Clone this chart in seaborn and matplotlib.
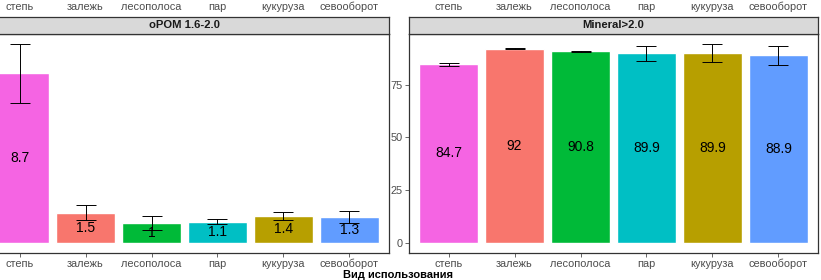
import numpy as np
import pandas as pd
import matplotlib
matplotlib.use("Agg")
import matplotlib.pyplot as plt
import seaborn as sns

categories = ["степь", "залежь", "лесополоса", "пар", "кукуруза", "севооборот"]
panel_titles = ["oPOM 1.6-2.0", "Mineral>2.0"]
opom_values = [8.7, 1.53, 1.01, 1.08, 1.37, 1.33]
opom_errors = [1.52, 0.38, 0.34, 0.12, 0.22, 0.30]
opom_labels = ["8.7", "1.5", "1", "1.1", "1.4", "1.3"]
mineral_values = [84.7, 92.0, 90.8, 89.9, 89.9, 88.9]
mineral_errors = [0.7, 0.3, 0.2, 3.5, 4.4, 4.4]
mineral_labels = ["84.7", "92", "90.8", "89.9", "89.9", "88.9"]
mineral_yticks = [0, 25, 50, 75]
opom_yticks = [0, 2.5, 5, 7.5, 10]
xlabel = "Вид использования"

# ggplot default hue palette, alphabetical mapping
color_map = {"залежь": "#F8766D", "кукуруза": "#B79F00", "лесополоса": "#00BA38",
             "пар": "#00BFC4", "севооборот": "#619CFF", "степь": "#F564E3"}

sns.set_style("white")
plt.rcParams["font.family"] = ["Liberation Sans", "DejaVu Sans"]

W, H = 821, 280
fig = plt.figure(figsize=(W / 100, H / 100), dpi=100)
fig.patch.set_facecolor("white")

def fx(px):
    return px / W

def fy(py):
    return (H - py) / H

panel_left = [-20, 409]
panel_w = 409
top_px, bot_px = 34, 252.5
strip_top = 17
tick_color = "#4D4D4D"
frame_color = "#333333"

datasets = [
    (opom_values, opom_errors, opom_labels, opom_yticks),
    (mineral_values, mineral_errors, mineral_labels, mineral_yticks),
]

for k, (vals, errs, labs, yt) in enumerate(datasets):
    ax = fig.add_axes([fx(panel_left[k]), fy(bot_px), fx(panel_w), (bot_px - top_px) / H])
    df = pd.DataFrame({"cat": categories, "val": vals})
    sns.barplot(data=df, x="cat", y="val", hue="cat", palette=color_map, order=categories,
                hue_order=categories, width=0.9, errorbar=None, legend=False,
                saturation=1, ax=ax)
    ax.errorbar(np.arange(len(categories)), vals, yerr=errs, fmt="none",
                ecolor="black", elinewidth=0.7, capsize=7.5, capthick=0.7, zorder=5)
    for i, (v, lab) in enumerate(zip(vals, labs)):
        ax.text(i, v / 2, lab, ha="center", va="center", fontsize=10, color="black", zorder=6)
    ymax = max(v + e for v, e in zip(vals, errs))
    pad = 0.05 * ymax
    ax.set_ylim(-pad, ymax + pad)
    ax.set_xlim(-0.6, len(categories) - 0.4)
    ax.set_yticks(yt)
    ax.set_yticklabels([f"{t:g}" for t in yt])
    ax.set_xlabel("")
    ax.set_ylabel("")
    ax.tick_params(axis="both", colors=tick_color, labelcolor=tick_color, labelsize=7.9,
                   length=3, width=0.6, direction="out", left=True, bottom=True, pad=1.5)
    if k == 0:
        ax.tick_params(axis="y", labelleft=False)
    for s in ax.spines.values():
        s.set_color(frame_color)
        s.set_linewidth(0.9)
    ax.set_facecolor("white")

    # facet strip
    sax = fig.add_axes([fx(panel_left[k]), fy(top_px), fx(panel_w), (top_px - strip_top) / H])
    sax.set_facecolor("#D9D9D9")
    sax.set_xticks([])
    sax.set_yticks([])
    for s in sax.spines.values():
        s.set_color(frame_color)
        s.set_linewidth(0.9)
    sax.text(0.5, 0.5, panel_titles[k], ha="center", va="center", fontsize=8.1,
             fontweight="bold", color="#1A1A1A", transform=sax.transAxes)

    # upper-row panel (cut off by the image frame) – only its x tick labels show
    uax = fig.add_axes([fx(panel_left[k]), fy(-4.5), fx(panel_w), 0.5])
    sns.barplot(data=df, x="cat", y="val", hue="cat", palette=color_map, order=categories,
                hue_order=categories, errorbar=None, legend=False, ax=uax)
    uax.set_xlim(-0.6, len(categories) - 0.4)
    uax.set_xlabel("")
    uax.set_ylabel("")
    uax.set_yticks([])
    uax.tick_params(axis="x", colors=tick_color, labelcolor=tick_color, labelsize=7.9,
                    length=3, width=0.6, pad=1.5)

fig.text(fx(398), fy(274.5), xlabel, ha="center", va="center", fontsize=8.0,
         fontweight="bold", color="black")

fig.savefig("out.png", dpi=100, facecolor="white")
